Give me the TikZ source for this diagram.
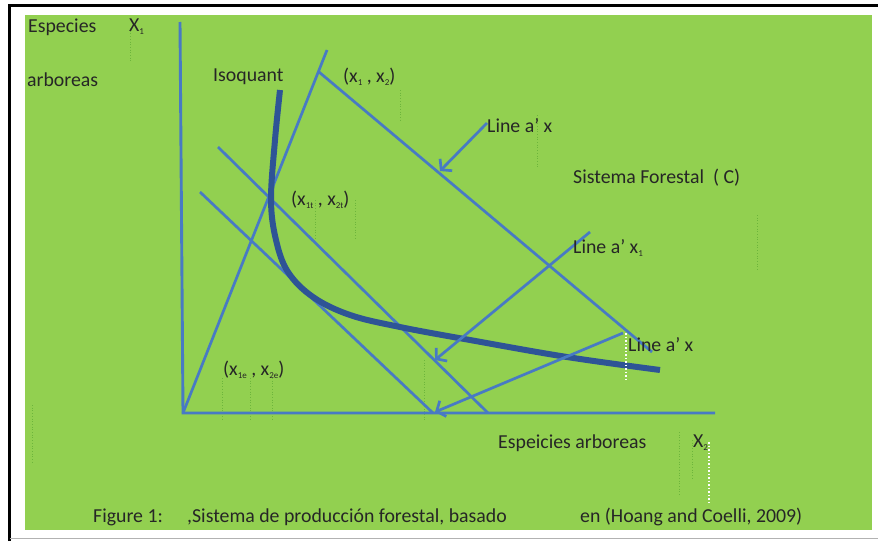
\documentclass[tikz,border=0pt]{standalone}
\usepackage{fontspec}
\setmainfont{Carlito}
\usetikzlibrary{arrows.meta}
\definecolor{bg}{RGB}{146,208,80}
\definecolor{ln}{RGB}{72,122,196}
\definecolor{iso}{RGB}{46,84,150}
\definecolor{tx}{RGB}{38,38,38}
\newcommand\sbs[1]{\raisebox{-0.3ex}{\fontsize{9}{9}\selectfont #1}}
\begin{document}
\begin{tikzpicture}[x=1pt,y=-1pt,
  txt/.style={anchor=west,inner sep=0pt,text=tx,font=\fontsize{19.8}{22}\selectfont},
  axisline/.style={ln,line width=2.9pt},
  bline/.style={ln,line width=2.7pt},
  arr/.style={ln,line width=2.7pt,-{Straight Barb[length=7pt,width=17pt]}},
  isoline/.style={iso,line width=6pt},
  faint/.style={green!40!black,opacity=0.25,dotted,line width=0.7pt},
  wdot/.style={white,dotted,line width=1.5pt}]
\useasboundingbox (0,0) rectangle (878,541);
% frame
\fill[white] (0,0) rectangle (878,541);
\draw[black,line width=3pt] (9.5,541) -- (9.5,5) -- (878,5);
\draw[gray!60,line width=1pt] (9.5,538.5) -- (878,538.5);
\fill[bg] (25,15) rectangle (872,530);
% faint dotted guide lines
\draw[faint] (130,28) -- (130,62);
\draw[faint] (400,90) -- (400,120);
\draw[faint] (537,115) -- (537,167);
\draw[faint] (315,200) -- (315,240);
\draw[faint] (355,200) -- (355,240);
\draw[faint] (757,215) -- (757,270);
\draw[faint] (32,405) -- (32,462);
\draw[faint] (222,378) -- (222,420);
\draw[faint] (250,378) -- (250,420);
\draw[faint] (272,378) -- (272,420);
\draw[faint] (424,360) -- (424,420);
\draw[faint] (679,432) -- (679,495);
\draw[faint] (692,440) -- (692,478);
% coordinates
\coordinate (top) at (180,22);
\coordinate (O) at (183,413);
\coordinate (xend) at (715,413);
\coordinate (R) at (327,50);
\coordinate (P) at (319,72);
\coordinate (Pend) at (652,352);
\coordinate (Ts) at (218,147);
\coordinate (Te) at (488,413);
\coordinate (Es) at (200,192);
\coordinate (Ee) at (433,413);
\coordinate (A1s) at (487,123);
\coordinate (A1e) at (440,171);
\coordinate (A2s) at (590,232);
\coordinate (A2e) at (435,360);
\coordinate (A3s) at (623,333);
\coordinate (A3e) at (435,412);
% axes
\draw[axisline] (top) -- (O) -- (xend);
% lines
\draw[bline] (O) -- (R);
\draw[bline] (P) -- (Pend);
\draw[bline] (Ts) -- (Te);
\draw[bline] (Es) -- (Ee);
% isoquant
\draw[isoline] plot[smooth,tension=0.6] coordinates {(280,90) (275,140) (271,200) (276,240) (288,272) (313,297) (350,315) (400,327) (470,340) (567,357) (660,370)};
% arrows
\draw[arr] (A1s) -- (A1e);
\draw[arr] (A2s) -- (A2e);
\draw[arr] (A3s) -- (A3e);
% white dotted
\draw[wdot] (626,333) -- (626,380);
\draw[wdot] (709,442) -- (709,503);
% texts
\node[txt] (t1) at (28,27) {Especies};
\node[txt] (t2) at (129,27) {X\sbs{1}};
\node[txt] (t3) at (27,80) {arboreas};
\node[txt] (t4) at (213,77) {Isoquant};
\node[txt] (t5) at (343,77) {(x\sbs{1} , x\sbs{2})};
\node[txt] (t6) at (487,126) {Line a’ x};
\node[txt] (t7) at (573,178) {Sistema Forestal\ \ ( C)};
\node[txt] (t8) at (291,200) {(x\sbs{1t} , x\sbs{2t})};
\node[txt] (t9) at (573,248) {Line a’ x\sbs{1}};
\node[txt] (t10) at (628,345) {Line a’ x};
\node[txt] (t11) at (223,370) {(x\sbs{1e} , x\sbs{2e})};
\node[txt] (t12) at (498,443) {Espeicies arboreas};
\node[txt] (t13) at (693,443) {X\sbs{2}};
\node[txt] (t14) at (93,517) {Figure 1:};
\node[txt] (t15) at (187,517) {,Sistema de producción forestal, basado};
\node[txt] (t16) at (580,517) {en (Hoang and Coelli, 2009)};
\end{tikzpicture}
\end{document}
